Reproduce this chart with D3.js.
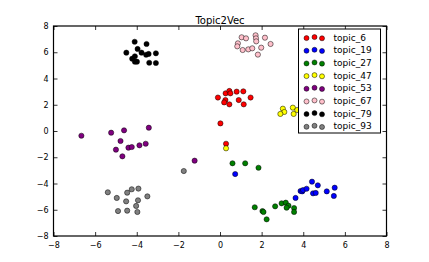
<!DOCTYPE html>
<html>
<head>
<meta charset="utf-8">
<script src="https://cdn.jsdelivr.net/npm/d3@7"></script>
<style>
  body { margin: 0; background: #fff; }
  svg { display: block; font-family: "DejaVu Sans", sans-serif; }
</style>
</head>
<body>
<svg id="chart" width="429" height="262"></svg>
<script>
// points, [x, y]
const topic6 = [[-0.1, 2.55], [0.27, 2.87], [0.45, 3.05], [0.5, 2.87], [0.8, 3.0], [1.12, 3.02],
  [1.47, 2.55], [0.26, 2.36], [0.2, 2.18], [0.45, 2.03], [0.9, 2.36], [1.14, 2.03], [0.02, 0.58], [0.29, -0.97]];
const topic19 = [[0.73, -3.28], [3.63, -5.1], [3.87, -4.57], [3.95, -4.6], [3.99, -4.5], [4.16, -4.4],
  [4.42, -3.86], [4.7, -4.14], [4.47, -4.75], [4.6, -4.72], [5.13, -4.6], [5.47, -4.95], [5.51, -4.32]];
const topic27 = [[0.6, -2.46], [1.21, -2.46], [1.85, -2.8], [1.67, -5.81], [2.04, -6.1], [2.09, -6.17],
  [2.24, -6.73], [2.65, -5.74], [2.96, -5.51], [3.16, -5.46], [3.29, -5.69], [3.2, -5.84], [3.56, -5.87], [3.56, -6.17]];
const topic47 = [[3.02, 1.7], [3.09, 1.45], [2.9, 1.3], [3.5, 1.78], [3.54, 1.3], [3.71, 1.6],
  [4.1, 1.7], [4.3, 1.4], [0.29, -1.32]];
const topic53 = [[-6.66, -0.36], [-5.23, -0.13], [-4.61, 0.05], [-3.42, 0.25], [-4.78, -0.76], [-4.4, -1.27],
  [-4.24, -1.22], [-3.87, -1.09], [-3.57, -0.97], [-5.0, -1.42], [-4.69, -1.93], [-1.22, -2.26]];
const topic67 = [[1.04, 7.14], [1.25, 7.06], [1.71, 7.29], [1.73, 7.06], [1.74, 6.83], [2.16, 7.11], [0.86, 6.68],
  [0.83, 6.45], [1.09, 6.17], [1.36, 6.22], [1.55, 6.3], [1.98, 6.35], [2.43, 6.63], [1.82, 5.82]];
const topic79 = [[-4.5, 5.97], [-4.1, 6.8], [-3.53, 6.63], [-3.96, 6.25], [-3.77, 5.97], [-3.55, 5.81], [-3.43, 5.87],
  [-3.08, 5.92], [-4.09, 5.69], [-4.22, 5.51], [-4.09, 5.28], [-3.99, 5.28], [-3.4, 5.2], [-3.08, 5.18]];
const topic93 = [[-1.74, -3.05], [-5.39, -4.67], [-4.96, -5.1], [-4.46, -4.7], [-4.24, -4.44], [-3.92, -4.39],
  [-3.49, -4.98], [-4.51, -5.36], [-3.94, -5.28], [-4.03, -5.71], [-4.9, -6.1], [-4.46, -6.07], [-3.97, -6.17]];

const topicNames = ['topic_6', 'topic_19', 'topic_27', 'topic_47', 'topic_53', 'topic_67', 'topic_79', 'topic_93'];
const topicColors = ['red', 'blue', 'green', 'yellow', 'purple', 'pink', 'black', 'gray'];
const topicPoints = [topic6, topic19, topic27, topic47, topic53, topic67, topic79, topic93];
const tickValues = [-8, -6, -4, -2, 0, 2, 4, 6, 8];

const svg = d3.select('#chart');
const margin = { left: 53.5, right: 42.5, top: 26, bottom: 26 };
const width = 429 - margin.left - margin.right;
const height = 262 - margin.top - margin.bottom;

const x = d3.scaleLinear().domain([-8, 8]).range([0, width]);
const y = d3.scaleLinear().domain([-8, 8]).range([height, 0]);

const g = svg.append('g').attr('transform', `translate(${margin.left},${margin.top})`);

// points, one topic after another like the scatter calls
topicPoints.forEach((pts, i) => {
    g.append('g')
        .selectAll('circle')
        .data(pts)
        .enter()
        .append('circle')
        .attr('cx', d => x(d[0]))
        .attr('cy', d => y(d[1]))
        .attr('r', 2.6)
        .attr('fill', topicColors[i])
        .attr('stroke', '#000')
        .attr('stroke-width', 0.5);
});

// axes with inward ticks on all four sides
const fmt = d3.format('d');
const styleAxis = sel => {
    sel.select('.domain').remove();
    sel.selectAll('.tick line').attr('stroke', '#000').attr('stroke-width', 0.8);
    sel.selectAll('.tick text').attr('fill', '#000').style('font-size', '8px').style('font-family', '"DejaVu Sans", sans-serif');
};

g.append('g')
    .attr('transform', `translate(0,${height})`)
    .call(d3.axisBottom(x).tickValues(tickValues).tickFormat(fmt).tickSizeInner(-4).tickSizeOuter(0).tickPadding(6))
    .call(styleAxis);
g.append('g')
    .call(d3.axisLeft(y).tickValues(tickValues).tickFormat(fmt).tickSizeInner(-4).tickSizeOuter(0).tickPadding(5))
    .call(styleAxis);
g.append('g')
    .call(d3.axisTop(x).tickValues(tickValues).tickFormat('').tickSizeInner(-4).tickSizeOuter(0))
    .call(styleAxis);
g.append('g')
    .attr('transform', `translate(${width},0)`)
    .call(d3.axisRight(y).tickValues(tickValues).tickFormat('').tickSizeInner(-4).tickSizeOuter(0))
    .call(styleAxis);

g.append('rect')
    .attr('width', width)
    .attr('height', height)
    .attr('fill', 'none')
    .attr('stroke', '#000')
    .attr('stroke-width', 1.2);

g.append('text')
    .attr('x', width / 2)
    .attr('y', -2.5)
    .attr('text-anchor', 'middle')
    .style('font-size', '10px')
    .text('Topic2Vec');

// legend, three markers per entry as old matplotlib draws it
const legend = g.append('g').attr('transform', `translate(${width - 88},3)`);
legend.append('rect')
    .attr('width', 82)
    .attr('height', 104)
    .attr('fill', '#fff')
    .attr('stroke', '#000')
    .attr('stroke-width', 1);

const markerOffsets = [[8, 0.6], [16, -0.4], [23.5, 0.8]];
const rows = legend.selectAll('.legend-row')
    .data(topicNames)
    .enter()
    .append('g')
    .attr('class', 'legend-row')
    .attr('transform', (_, i) => `translate(0,${8.5 + i * 12.67})`);

rows.selectAll('circle')
    .data((d, i) => markerOffsets.map(o => ({ o, c: topicColors[i] })))
    .enter()
    .append('circle')
    .attr('cx', d => d.o[0])
    .attr('cy', d => d.o[1])
    .attr('r', 2.5)
    .attr('fill', d => d.c)
    .attr('stroke', '#000')
    .attr('stroke-width', 0.5);

rows.append('text')
    .attr('x', 35)
    .attr('y', 0)
    .attr('dy', '0.35em')
    .style('font-size', '9px')
    .text(d => d);
</script>
</body>
</html>
